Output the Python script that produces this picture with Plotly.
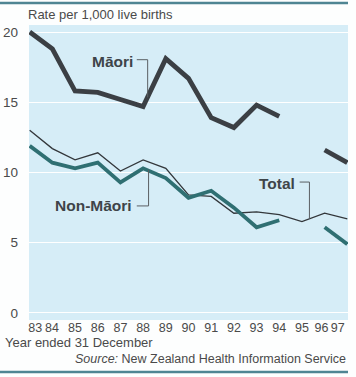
import plotly.graph_objects as go

years = [83, 84, 85, 86, 87, 88, 89, 90, 91, 92, 93, 94, 95, 96, 97]
tick_labels = ["83", "84", "85", "86", "87", "88", "89", "90", "91", "92", "93", "94", "95", "96", "97"]
maori = [20.0, 18.8, 15.8, 15.7, 15.2, 14.7, 18.1, 16.7, 13.9, 13.2, 14.8, 14.0, None, 11.6, 10.7]
non_maori = [11.9, 10.7, 10.3, 10.7, 9.3, 10.3, 9.6, 8.2, 8.7, 7.5, 6.1, 6.6, None, 6.1, 4.9]
total = [13.0, 11.7, 10.9, 11.4, 10.1, 10.9, 10.3, 8.4, 8.3, 7.1, 7.2, 7.0, 6.5, 7.1, 6.7]

# small label nudges so the end labels stay inside the panel
label_shift = {83: 0.24, 84: -0.02, 96: -0.14, 97: -0.42}
tick_pos = [y + label_shift.get(y, 0) for y in years]

FONT = "Arial, Liberation Sans, sans-serif"
GRAY = "#4a4a4a"
LABEL = "#3e4449"

fig = go.Figure()
fig.add_trace(go.Scatter(x=years, y=total, mode="lines", line=dict(color="#33373b", width=1.3),
                         connectgaps=False, hoverinfo="skip"))
fig.add_trace(go.Scatter(x=years, y=non_maori, mode="lines", line=dict(color="#2f6f72", width=3.8),
                         connectgaps=False, hoverinfo="skip"))
fig.add_trace(go.Scatter(x=years, y=maori, mode="lines", line=dict(color="#3b3f44", width=4.8),
                         connectgaps=False, hoverinfo="skip"))

# series labels: (text, x, y, leader path points)
series_labels = [
    ("Māori", 87.62, 17.9, [(87.72, 18.03), (88.2, 18.03), (88.2, 15.35)]),
    ("Non-Māori", 87.58, 7.68, [(87.72, 7.62), (88.24, 7.62), (88.24, 10.2)]),
    ("Total", 94.78, 9.2, [(94.9, 9.32), (95.33, 9.32), (95.33, 6.72)]),
]
for text, tx, ty, pts in series_labels:
    fig.add_annotation(x=tx, y=ty, xref="x", yref="y", text="<b>%s</b>" % text, showarrow=False,
                       xanchor="right", yanchor="middle",
                       font=dict(family=FONT, size=15.5, color=LABEL))
    for (x0, y0), (x1, y1) in zip(pts[:-1], pts[1:]):
        fig.add_shape(type="line", xref="x", yref="y", x0=x0, y0=y0, x1=x1, y1=y1,
                      line=dict(color="#5a5f63", width=1))

fig.add_annotation(x=-0.01, y=1.034, xref="paper", yref="paper", text="Rate per 1,000 live births",
                   showarrow=False, xanchor="left", yanchor="middle",
                   font=dict(family=FONT, size=13, color=GRAY))
fig.add_annotation(x=-0.0815, y=-0.0746, xref="paper", yref="paper", text="Year ended 31 December",
                   showarrow=False, xanchor="left", yanchor="middle",
                   font=dict(family=FONT, size=13, color=GRAY))
fig.add_annotation(x=1.0, y=-0.132, xref="paper", yref="paper",
                   text="<i>Source:</i> New Zealand Health Information Service",
                   showarrow=False, xanchor="right", yanchor="middle",
                   font=dict(family=FONT, size=12.5, color=GRAY))

# top and bottom rules
for yy in (1.0746, -0.176):
    fig.add_shape(type="line", xref="paper", yref="paper", x0=-0.091, x1=1.0, y0=yy, y1=yy,
                  line=dict(color="#4f8593", width=2.5))

fig.update_layout(
    width=356, height=377,
    margin=dict(l=29, r=8, t=25, b=57, autoexpand=False),
    paper_bgcolor="#fdfefe",
    plot_bgcolor="#d6edf7",
    showlegend=False,
    font=dict(family=FONT, size=13, color=GRAY),
)
fig.update_xaxes(range=[82.97, 97.03], tickmode="array", tickvals=tick_pos, ticktext=tick_labels,
                 showgrid=False, zeroline=False, showline=False, ticks="", tickangle=0,
                 automargin=False,
                 tickfont=dict(family=FONT, size=12.5, color=GRAY), ticklabelstandoff=-2)
fig.update_yaxes(range=[-0.5, 20.5], tickmode="array", tickvals=[0, 5, 10, 15, 20],
                 showgrid=True, gridcolor="#ffffff", gridwidth=1, zeroline=False, showline=False,
                 ticks="", automargin=False,
                 tickfont=dict(family=FONT, size=13.5, color=GRAY), ticklabelstandoff=10)

fig.write_html("out.html", config={"displayModeBar": False, "staticPlot": True},
               post_script="document.body.style.margin='0';document.body.style.overflow='hidden';")
